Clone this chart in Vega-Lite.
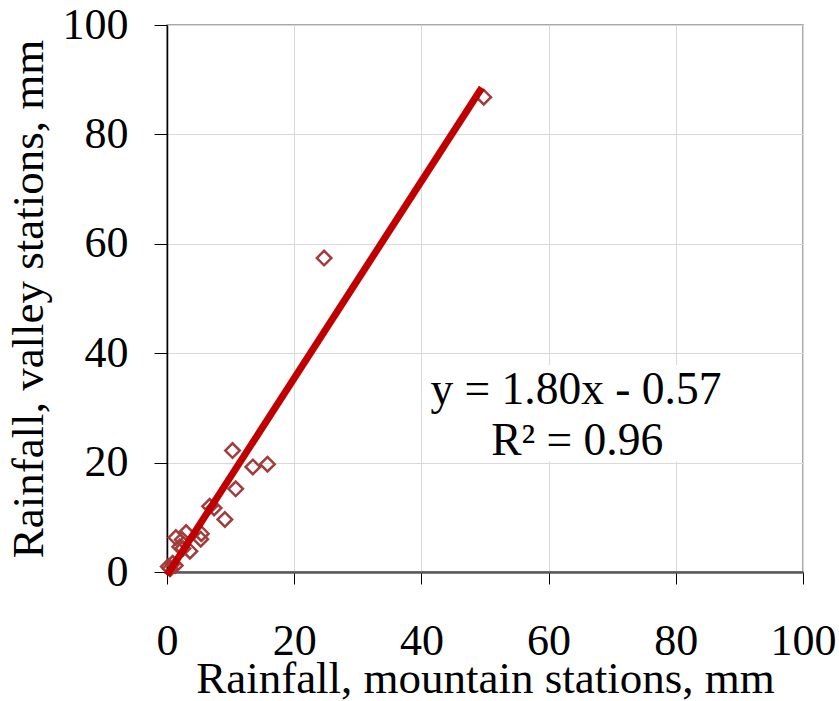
{
  "$schema": "https://vega.github.io/schema/vega-lite/v6.json",
  "width": 636,
  "height": 547,
  "autosize": {"type": "none"},
  "padding": {"left": 167, "top": 25, "right": 36, "bottom": 129},
  "background": "white",
  "config": {
    "font": "Liberation Serif",
    "view": {"stroke": "#8c8c8c", "strokeWidth": 1.5}
  },
  "layer": [
    {
      "data": {"values": [{"x": 40.6, "x2": 88.2, "y": 20.2, "y2": 37.8}]},
      "mark": {"type": "rect", "fill": "white", "stroke": null},
      "encoding": {
        "x": {
          "field": "x", "type": "quantitative",
          "scale": {"domain": [0, 100], "nice": false, "zero": false},
          "axis": {
            "title": "Rainfall, mountain stations, mm",
            "values": [0, 20, 40, 60, 80, 100],
            "grid": true, "gridColor": "#d9d9d9", "gridWidth": 1,
            "domainColor": "#595959", "domainWidth": 2.5,
            "tickColor": "#000000", "tickSize": 12, "tickWidth": 1,
            "labelFont": "Liberation Serif", "labelFontSize": 44, "labelColor": "#000000",
            "labelPadding": 35, "labelFlush": false, "labelOverlap": false,
            "titleFont": "Liberation Serif", "titleFontSize": 45, "titleFontWeight": "normal",
            "titleColor": "#000000", "titlePadding": -7
          }
        },
        "x2": {"field": "x2"},
        "y": {
          "field": "y", "type": "quantitative",
          "scale": {"domain": [0, 100], "nice": false, "zero": false},
          "axis": {
            "title": "Rainfall, valley stations, mm",
            "values": [0, 20, 40, 60, 80, 100],
            "grid": true, "gridColor": "#d9d9d9", "gridWidth": 1,
            "domainColor": "#000000", "domainWidth": 1.5,
            "tickColor": "#000000", "tickSize": 13, "tickWidth": 1,
            "labelFont": "Liberation Serif", "labelFontSize": 44, "labelColor": "#000000",
            "labelPadding": 26, "labelFlush": false, "labelOverlap": false,
            "titleFont": "Liberation Serif", "titleFontSize": 45, "titleFontWeight": "normal",
            "titleColor": "#000000", "titlePadding": 11
          }
        },
        "y2": {"field": "y2"}
      }
    },
    {
      "data": {
        "values": [
          {"x": 49.8, "y": 86.8},
          {"x": 24.7, "y": 57.4},
          {"x": 10.3, "y": 22.2},
          {"x": 13.5, "y": 19.2},
          {"x": 15.8, "y": 19.7},
          {"x": 10.8, "y": 15.2},
          {"x": 6.7, "y": 12.0},
          {"x": 7.4, "y": 11.7},
          {"x": 9.1, "y": 9.6},
          {"x": 1.4, "y": 6.3},
          {"x": 3.0, "y": 7.2},
          {"x": 5.4, "y": 7.0},
          {"x": 5.3, "y": 6.0},
          {"x": 2.4, "y": 5.9},
          {"x": 2.0, "y": 4.6},
          {"x": 3.6, "y": 3.8},
          {"x": 2.5, "y": 4.3},
          {"x": 0.2, "y": 1.0},
          {"x": 0.9, "y": 1.6},
          {"x": 0.5, "y": 0.6},
          {"x": 1.3, "y": 1.2}
        ]
      },
      "mark": {"type": "point", "shape": "diamond", "size": 210, "filled": false, "stroke": "#a03c3c", "strokeWidth": 2.5, "opacity": 1},
      "encoding": {
        "x": {"field": "x", "type": "quantitative"},
        "y": {"field": "y", "type": "quantitative"}
      }
    },
    {
      "data": {"values": [{"x": 0, "y": -0.57}, {"x": 49.5, "y": 88.53}]},
      "mark": {"type": "line", "color": "#c00000", "strokeWidth": 7, "clip": false},
      "encoding": {
        "x": {"field": "x", "type": "quantitative"},
        "y": {"field": "y", "type": "quantitative"}
      }
    },
    {
      "data": {
        "values": [
          {"x": 64.3, "y": 33.3, "label": "y = 1.80x - 0.57"},
          {"x": 64.5, "y": 24.0, "label": "R² = 0.96"}
        ]
      },
      "mark": {"type": "text", "font": "Liberation Serif", "fontSize": 45.5, "color": "#000000", "align": "center", "baseline": "middle"},
      "encoding": {
        "x": {"field": "x", "type": "quantitative"},
        "y": {"field": "y", "type": "quantitative"},
        "text": {"field": "label"}
      }
    }
  ]
}
